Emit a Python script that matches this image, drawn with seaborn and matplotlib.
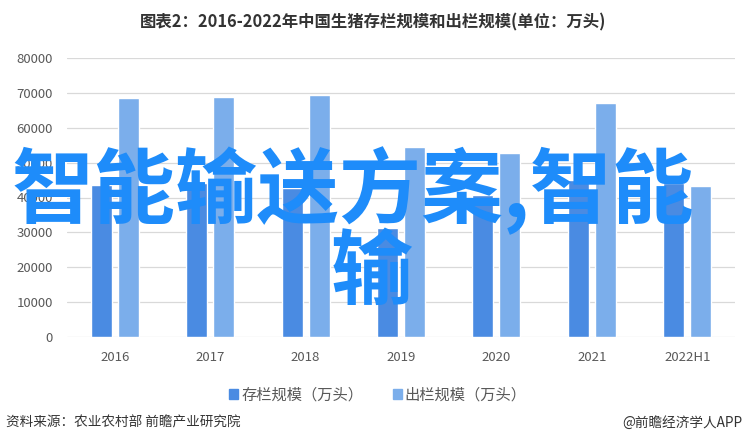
import pandas as pd
import matplotlib
matplotlib.use("Agg")
import matplotlib.pyplot as plt
import seaborn as sns

# data
years = ['2016', '2017', '2018', '2019', '2020', '2021', '2022H1']
stock = [43700, 44200, 42800, 31300, 40700, 44900, 44200]        # 存栏规模
slaughter = [68600, 69000, 69500, 54500, 52800, 67150, 43200]    # 出栏规模
series_names = ['存栏规模（万头）', '出栏规模（万头）']
yticks = [0, 10000, 20000, 30000, 40000, 50000, 60000, 70000, 80000]

custom_colors = ['#4A8BE2', '#7BAEEB']

df = pd.DataFrame({
    'year': years * 2,
    'value': stock + slaughter,
    'series': [series_names[0]] * len(years) + [series_names[1]] * len(years),
})

sns.set_theme(style='white')
plt.rcParams['font.family'] = ['Noto Sans CJK SC', 'DejaVu Sans']

fig = plt.figure(figsize=(7.48, 4.45), dpi=100)
ax = fig.add_axes([67 / 748, 1 - 336.7 / 445, (735 - 67) / 748, (336.7 - 58.3) / 445])

sns.barplot(data=df, x='year', y='value', hue='series', palette=custom_colors,
            width=0.566, gap=0.22, saturation=1, ax=ax, legend=False)

ax.set_ylim(0, 80000)
ax.set_xlim(-0.5, 6.5)
ax.set_yticks(yticks)
ax.set_yticklabels([str(v) for v in yticks])
ax.yaxis.grid(True, color='#D9D9D9', lw=0.9)
ax.set_axisbelow(True)
for s in ax.spines.values():
    s.set_visible(False)
ax.set(xlabel=None, ylabel=None)
ax.tick_params(axis='y', length=0, pad=10, labelsize=9.5, labelcolor='#595959')
ax.tick_params(axis='x', length=0, pad=10, labelsize=9.5, labelcolor='#595959')

# title
fig.text(373 / 748, 1 - 22 / 445, '图表2：2016-2022年中国生猪存栏规模和出栏规模(单位：万头)',
         ha='center', va='center', fontsize=11.8, fontweight='bold', color='#333333')

# legend
handles = [plt.Rectangle((0, 0), 1, 1, color=c) for c in custom_colors]
fig.legend(handles, series_names, loc='center', bbox_to_anchor=(378 / 748, 1 - 395 / 445),
           ncol=2, frameon=False, fontsize=11, handlelength=0.6, handleheight=0.6,
           handletextpad=0.2, columnspacing=1.9, labelcolor='#595959')

# footer
fig.text(6 / 748, 1 - 423 / 445, '资料来源：农业农村部 前瞻产业研究院', ha='left', va='center',
         fontsize=9.8, color='#333333')
fig.text(742 / 748, 1 - 423 / 445, '@前瞻经济学人APP', ha='right', va='center',
         fontsize=9.8, color='#333333')

# big overlay text
fig.text(12 / 748, 1 - 191 / 445, '智能输送方案,智能', ha='left', va='center',
         fontsize=59, fontweight='bold', color='#1E8CFA')
fig.text(372 / 748, 1 - 274 / 445, '输', ha='center', va='center',
         fontsize=59, fontweight='bold', color='#1E8CFA')

fig.savefig('out.png', dpi=100)
